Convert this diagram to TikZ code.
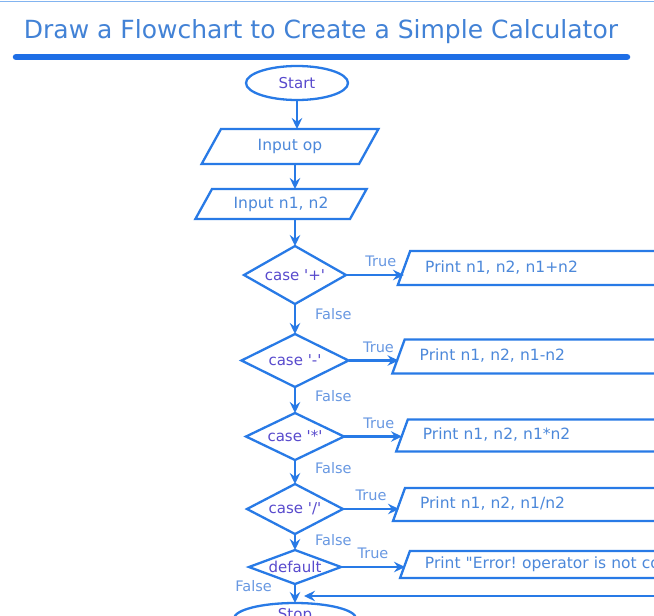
\documentclass[tikz,border=0pt]{standalone}
\usepackage{fontspec}
\setmainfont{DejaVu Sans}[Ligatures=TeXOff]
\usetikzlibrary{shapes.geometric,arrows.meta,positioning}

\definecolor{lineblue}{RGB}{40,122,230}
\definecolor{barblue}{RGB}{30,110,230}
\definecolor{edgeblue}{RGB}{130,180,240}
\definecolor{titleblue}{RGB}{66,130,214}
\definecolor{keyink}{RGB}{88,74,205}
\definecolor{ioink}{RGB}{76,136,218}
\definecolor{tagink}{RGB}{104,152,226}

\frenchspacing

\begin{document}
\begin{tikzpicture}[
  x=1pt, y=-1pt,
  term/.style={ellipse, draw=lineblue, line width=2.3pt, outer sep=0pt, inner sep=1pt, font=\fontsize{15}{17}\selectfont, text=keyink},
  inbox/.style={trapezium, trapezium left angle=61, trapezium right angle=119, draw=lineblue, line width=2.3pt, outer sep=0pt, text width=126pt, align=center, inner xsep=6pt, text height=11pt, text depth=3pt, font=\fontsize{15.5}{18}\selectfont, text=ioink},
  decide/.style={diamond, draw=lineblue, line width=2.3pt, outer sep=0pt, shape aspect=1.8, inner sep=0pt, font=\fontsize{15}{17}\selectfont, text=keyink},
  outbox/.style={trapezium, trapezium left angle=70, trapezium right angle=110, draw=lineblue, line width=2.3pt, outer sep=0pt, text width=330pt, align=left, inner xsep=15pt, text height=11pt, text depth=3pt, font=\fontsize{15.5}{18}\selectfont, text=ioink},
  tag/.style={font=\fontsize{14.5}{17}\selectfont, text=tagink, inner sep=2pt},
  arrow/.style={-{Stealth[length=11pt, width=10.5pt, inset=3.8pt]}, line width=2.3pt, draw=lineblue}
]
  % page and crop
  \useasboundingbox (0,0) rectangle (654,616);
  \clip (0,0) rectangle (654,616);
  \fill[white] (0,0) rectangle (654,616);
  \draw[edgeblue, line width=1.5pt] (0,1.5) -- (654,1.5);

  % title
  \node[font=\fontsize{25}{30}\selectfont, text=titleblue, anchor=base] (title) at (321,38) {Draw a Flowchart to Create a Simple Calculator};
  \draw[barblue, line width=6.5pt, line cap=round] (16,57) -- (627,57);

  % main column
  \node[term, minimum width=102pt, minimum height=34pt] (start) at (297,83) {Start};
  \node[inbox, below=29pt of start, inner ysep=10.5pt, xshift=-7pt] (inop) {Input op};
  \node[inbox, below=25pt of inop, inner ysep=8pt, xshift=-9pt] (inn) {Input n1, n2};
  \node[decide, below=27pt of inn, xshift=14pt, minimum width=102pt, minimum height=58pt] (plus) {case '+'};
  \node[decide, below=30pt of plus, minimum width=107pt, minimum height=53pt] (minus) {case '-'};
  \node[decide, below=26pt of minus, minimum width=98pt, minimum height=47pt] (times) {case '*'};
  \node[decide, below=24pt of times, minimum width=96pt, minimum height=50pt] (divide) {case '/'};
  \node[decide, below=16pt of divide, minimum width=92pt, minimum height=34pt, shape aspect=2.6] (deflt) {default};
  \node[term, below=19pt of deflt, minimum width=122pt, minimum height=26pt, text height=11pt, text depth=9pt] (stop) {Stop};

  % print boxes
  \node[outbox, right=58pt of plus, yshift=7pt, inner ysep=10pt] (outplus) {Print n1, n2, n1+n2};
  \node[outbox, right=50pt of minus, yshift=4pt, inner ysep=10pt] (outminus) {Print n1, n2, n1-n2};
  \node[outbox, right=58pt of times, yshift=1pt, inner ysep=9pt] (outtimes) {Print n1, n2, n1*n2};
  \node[outbox, right=56pt of divide, yshift=4.5pt, inner ysep=9.5pt] (outdiv) {Print n1, n2, n1/n2};
  \node[outbox, right=64pt of deflt, yshift=2.5pt, inner ysep=6.5pt] (outerr) {Print "Error! operator is not co};

  % connectors
  \draw[arrow] (start) -- (start |- inop.north);
  \draw[arrow] (inop.south -| plus) -- (inn.north -| plus);
  \draw[arrow] (inn.south -| plus) -- (plus);
  \draw[arrow] (plus) -- node[tag, right=17pt, pos=0.35] {False} (minus);
  \draw[arrow] (minus) -- node[tag, right=17pt, pos=0.35] {False} (times);
  \draw[arrow] (times) -- node[tag, right=17pt, pos=0.35] {False} (divide);
  \draw[arrow] (divide) -- node[tag, right=17pt, pos=0.35] {False} (deflt);
  \draw[arrow] (deflt) -- node[tag, left=20pt, pos=0.1] {False} (stop);

  \draw[arrow] (plus) -- node[tag, above=5pt, pos=0.6] {True} (plus -| outplus.west);
  \draw[arrow] (minus) -- node[tag, above=5pt, pos=0.6] {True} (minus -| outminus.west);
  \draw[arrow] (times) -- node[tag, above=5pt, pos=0.6] {True} (times -| outtimes.west);
  \draw[arrow] (divide) -- node[tag, above=5pt, pos=0.5] {True} (divide -| outdiv.west);
  \draw[arrow] (deflt) -- node[tag, above=5pt, pos=0.5] {True} (deflt -| outerr.west);

  \coordinate (back) at (660,596);
  \draw[arrow] (back) -- ([xshift=9pt]deflt.south |- back);
\end{tikzpicture}
\end{document}
